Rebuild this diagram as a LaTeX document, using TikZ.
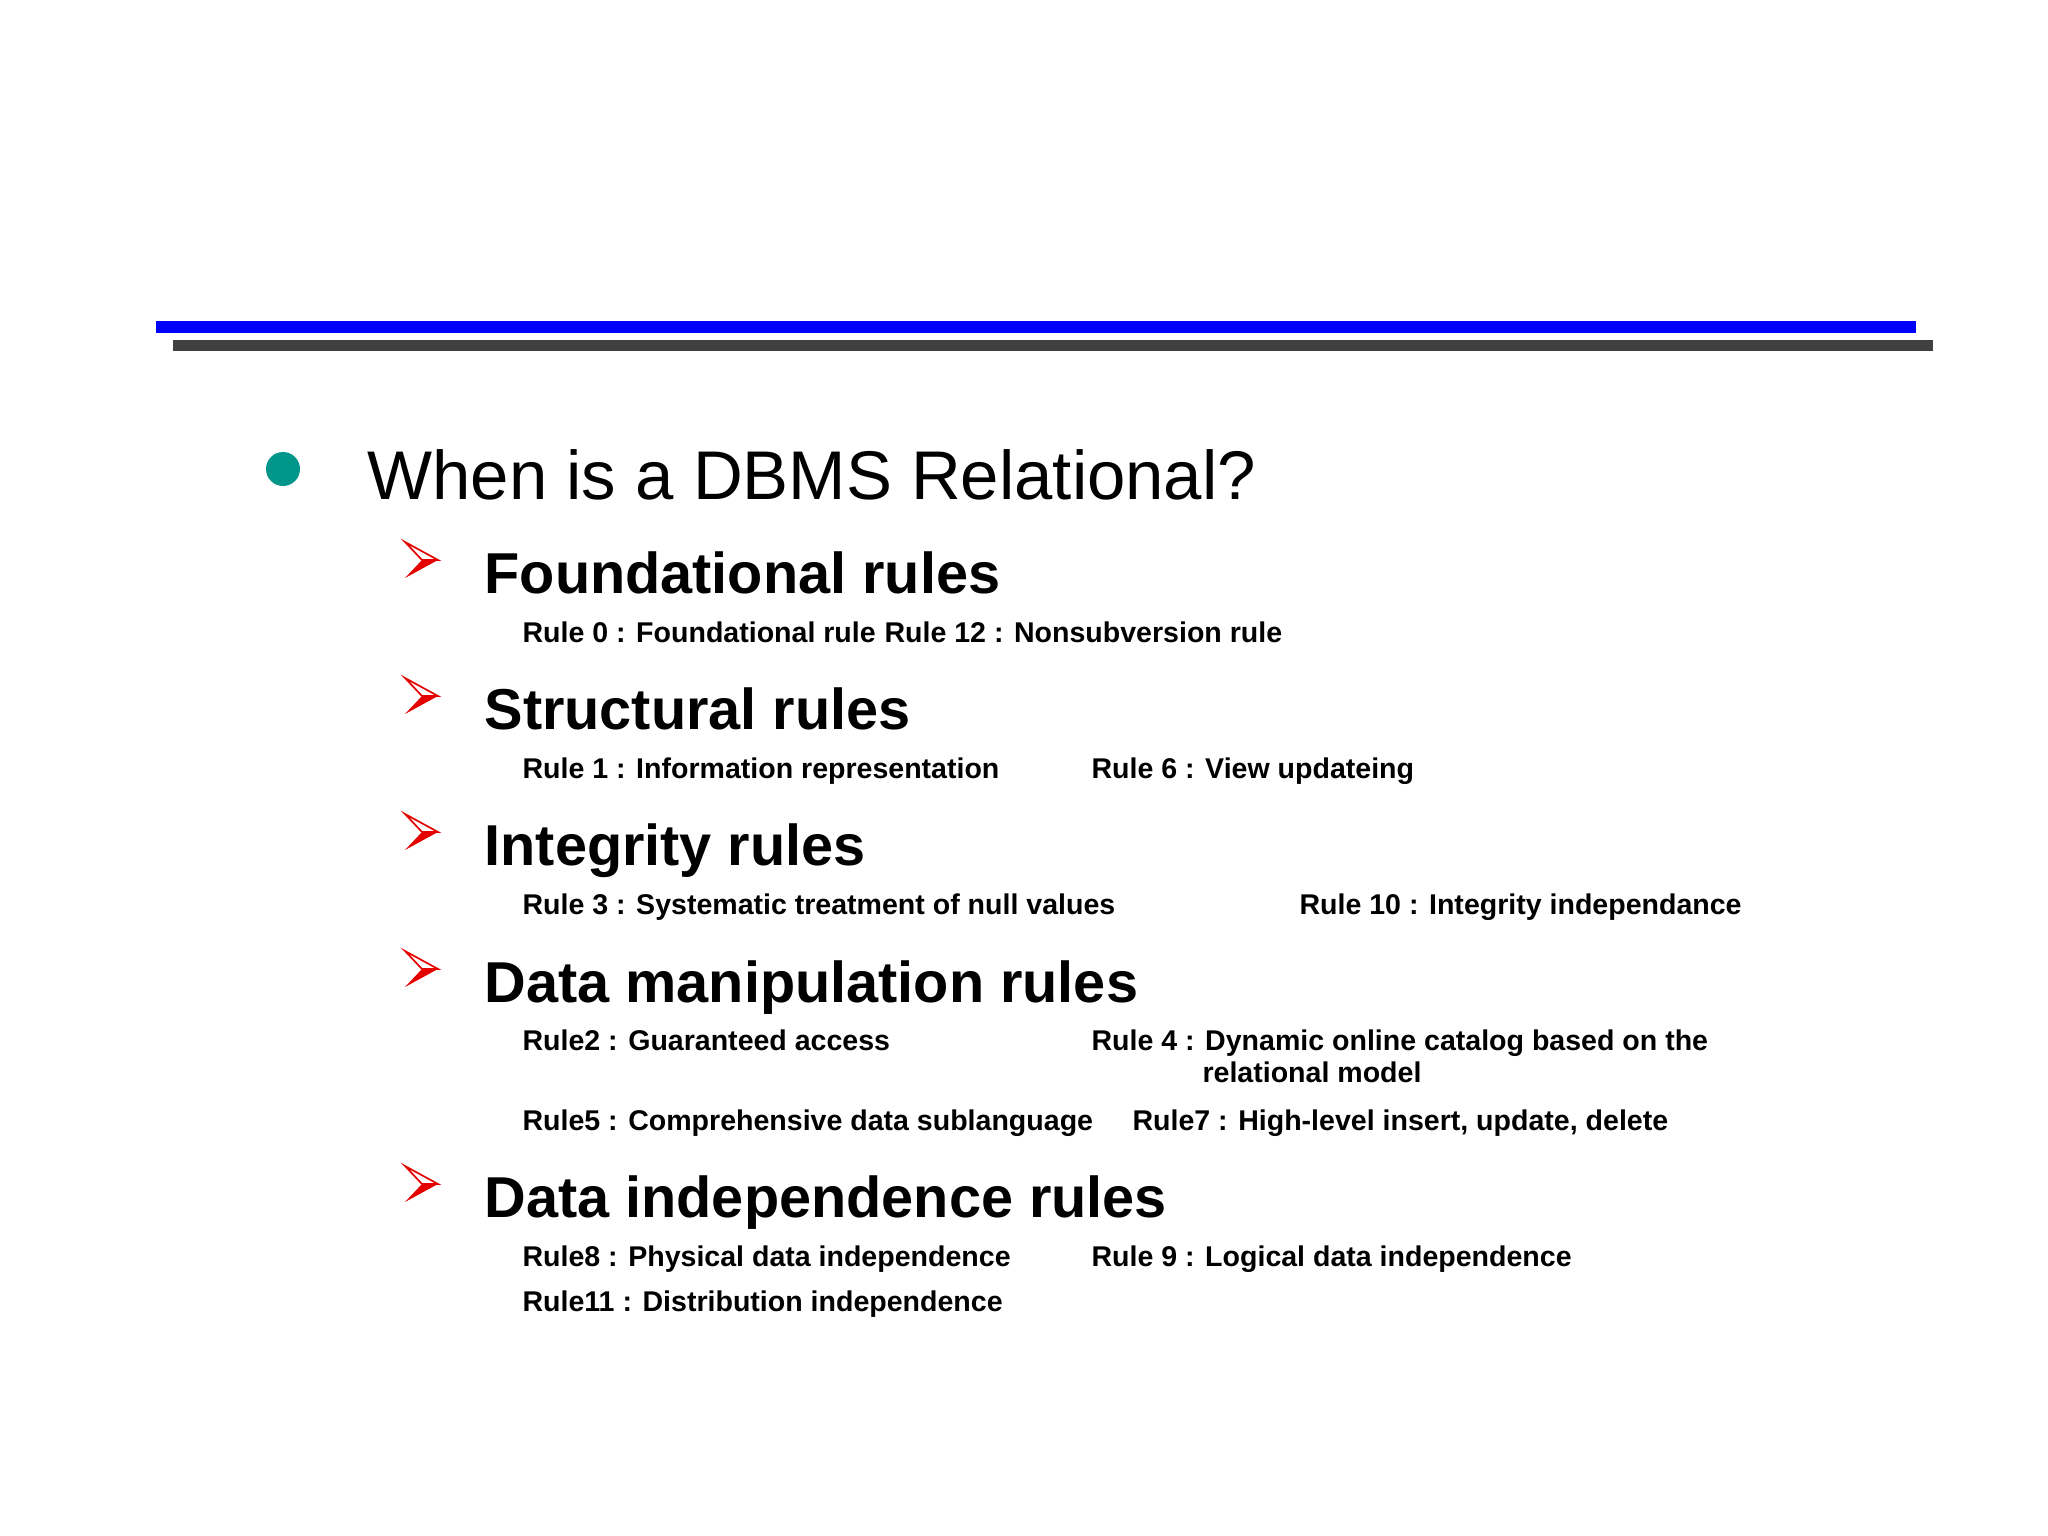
\documentclass[tikz,border=0pt]{standalone}
\usepackage{fontspec}
\setmainfont{Liberation Sans}
\definecolor{dotc}{HTML}{00968A}
\begin{document}
\begin{tikzpicture}[x=0.0125cm,y=-0.0125cm,
  ttl/.style={anchor=base west,inner sep=0,font=\fontsize{24.5}{30}\selectfont},
  hd/.style={anchor=base west,inner sep=0,font=\fontsize{20.5}{25}\selectfont\bfseries},
  sm/.style={anchor=base west,inner sep=0,font=\fontsize{10.15}{13}\selectfont\bfseries},
  bul/.pic={\fill[red!90!black] (0,0)--(-33,18)--(-16,0)--cycle;
            \draw[red!90!black,line width=0.6pt,line join=miter] (0,0)--(-33,-18)--(-16,0)--cycle;}]
\useasboundingbox (0,0) rectangle (2048,1536);
\fill[blue] (156,321) rectangle (1916,333);
\fill[black!75] (173,340) rectangle (1933,351);
\fill[dotc] (283,469) circle (17);
\node[ttl] (t) at (367,499) {When is a DBMS Relational?};
\foreach \y/\t [count=\i] in {593/Foundational rules,729/Structural rules,865/Integrity rules,1002/Data manipulation rules,1217/Data independence rules}{
  \node[hd] (h\i) at (484,\y) {\t};
  \pic at (438,\y-33) {bul};
}
\node[sm] (a0) at (522,642) {Rule 0 : Foundational rule};
\node[sm] (a12) at (884,642) {Rule 12 : Nonsubversion rule};
\node[sm] (a1) at (522,778) {Rule 1 : Information representation};
\node[sm] (a6) at (1091,778) {Rule 6 : View updateing};
\node[sm] (a3) at (522,914) {Rule 3 : Systematic treatment of null values};
\node[sm] (a10) at (1299,914) {Rule 10 : Integrity independance};
\node[sm] (a2) at (522,1050) {Rule2 : Guaranteed access};
\node[sm] (a4) at (1091,1050) {Rule 4 : Dynamic online catalog based on the};
\node[sm] (a4b) at (1202,1082) {relational model};
\node[sm] (a5) at (522,1130) {Rule5 : Comprehensive data sublanguage};
\node[sm] (a7) at (1132,1130) {Rule7 : High-level insert, update, delete};
\node[sm] (a8) at (522,1266) {Rule8 : Physical data independence};
\node[sm] (a9) at (1091,1266) {Rule 9 : Logical data independence};
\node[sm] (a11) at (522,1311) {Rule11 : Distribution independence};
\end{tikzpicture}
\end{document}
